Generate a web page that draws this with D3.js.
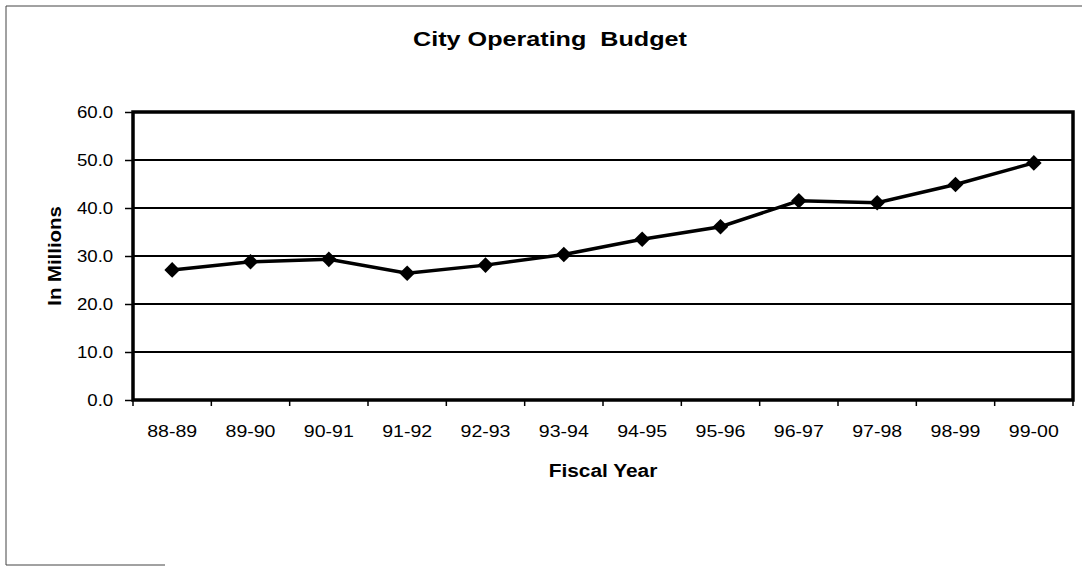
<!DOCTYPE html>
<html>
<head>
<meta charset="utf-8">
<script src="https://cdn.jsdelivr.net/npm/d3@7"></script>
<style>
  body { margin: 0; background: #fff; }
  svg { display: block; font-family: "Liberation Sans", Arial, sans-serif; }
</style>
</head>
<body>
<div id="chart"></div>
<script>
// fiscal years and budget (in millions)
var years = ["88-89", "89-90", "90-91", "91-92", "92-93", "93-94",
             "94-95", "95-96", "96-97", "97-98", "98-99", "99-00"];
var budget = [27.1, 28.8, 29.3, 26.4, 28.1, 30.3, 33.5, 36.1, 41.5, 41.1, 44.9, 49.4];
var yTicks = [0, 10, 20, 30, 40, 50, 60];

var W = 1082, H = 571;
var margin = {top: 112, right: 9, bottom: 171, left: 133},
    width = W - margin.left - margin.right,
    height = H - margin.top - margin.bottom;

var svg = d3.select("#chart").append("svg")
    .attr("width", W)
    .attr("height", H);

// outer frame (scanned page edge)
svg.append("path")
    .attr("d", "M6,565 V6 H1082 M6,565 H165")
    .attr("fill", "none")
    .attr("stroke", "#444")
    .attr("stroke-width", 1);

// the scan is a bit stretched sideways, so text gets a small x scale
svg.append("text")
    .attr("transform", "translate(550,46) scale(1.29,1)")
    .attr("text-anchor", "middle")
    .style("font-size", "19.5px")
    .style("font-weight", "bold")
    .style("white-space", "pre")
    .text("City Operating  Budget");

var g = svg.append("g")
    .attr("transform", "translate(" + margin.left + "," + margin.top + ")");

var x = d3.scaleBand().domain(years).range([0, width]);
var y = d3.scaleLinear().domain([0, 60]).range([height, 0]);

// gridlines
g.selectAll(".grid").data(yTicks.slice(1, -1)).enter().append("line")
    .attr("x1", 0).attr("x2", width)
    .attr("y1", function(d) { return y(d); })
    .attr("y2", function(d) { return y(d); })
    .attr("stroke", "#000")
    .attr("stroke-width", 1.8);

// y axis
var yAxis = g.append("g")
    .call(d3.axisLeft(y).tickValues(yTicks).tickSize(8).tickPadding(9.5)
        .tickFormat(d3.format(".1f")));
yAxis.select(".domain").remove();
yAxis.selectAll("line").attr("stroke-width", 1.5);
yAxis.selectAll("text")
    .style("font-size", "16.5px")
    .attr("fill", "#000")
    .attr("transform", "scale(1.13,1)");

// x axis ticks at category boundaries
var bounds = years.map(function(d) { return x(d); }).concat([width]);
g.selectAll(".xtick").data(bounds).enter().append("line")
    .attr("x1", function(d) { return d; }).attr("x2", function(d) { return d; })
    .attr("y1", height).attr("y2", height + 6)
    .attr("stroke", "#000").attr("stroke-width", 1.5);

var xAxis = g.append("g")
    .attr("transform", "translate(0," + height + ")")
    .call(d3.axisBottom(x).tickSize(0).tickPadding(25));
xAxis.select(".domain").remove();
xAxis.selectAll("text")
    .style("font-size", "17px")
    .attr("fill", "#000")
    .attr("transform", "scale(1.15,1)");

// plot frame
g.append("rect")
    .attr("width", width).attr("height", height)
    .attr("fill", "none")
    .attr("stroke", "#000")
    .attr("stroke-width", 3.5);

// line
var line = d3.line()
    .x(function(d, i) { return x(years[i]) + x.bandwidth() / 2; })
    .y(function(d) { return y(d); });

g.append("path")
    .attr("d", line(budget))
    .attr("fill", "none")
    .attr("stroke", "#000")
    .attr("stroke-width", 3.5);

g.selectAll(".pt").data(budget).enter().append("path")
    .attr("d", d3.symbol().type(d3.symbolDiamond2).size(155))
    .attr("transform", function(d, i) {
        return "translate(" + (x(years[i]) + x.bandwidth() / 2) + "," + y(d) + ")";
    })
    .attr("fill", "#000");

// axis titles
svg.append("text")
    .attr("transform", "translate(61,256) rotate(-90) scale(1.1,1)")
    .attr("text-anchor", "middle")
    .style("font-size", "18.5px")
    .style("font-weight", "bold")
    .text("In Millions");

svg.append("text")
    .attr("transform", "translate(603,477) scale(1.16,1)")
    .attr("text-anchor", "middle")
    .style("font-size", "18px")
    .style("font-weight", "bold")
    .text("Fiscal Year");
</script>
</body>
</html>
